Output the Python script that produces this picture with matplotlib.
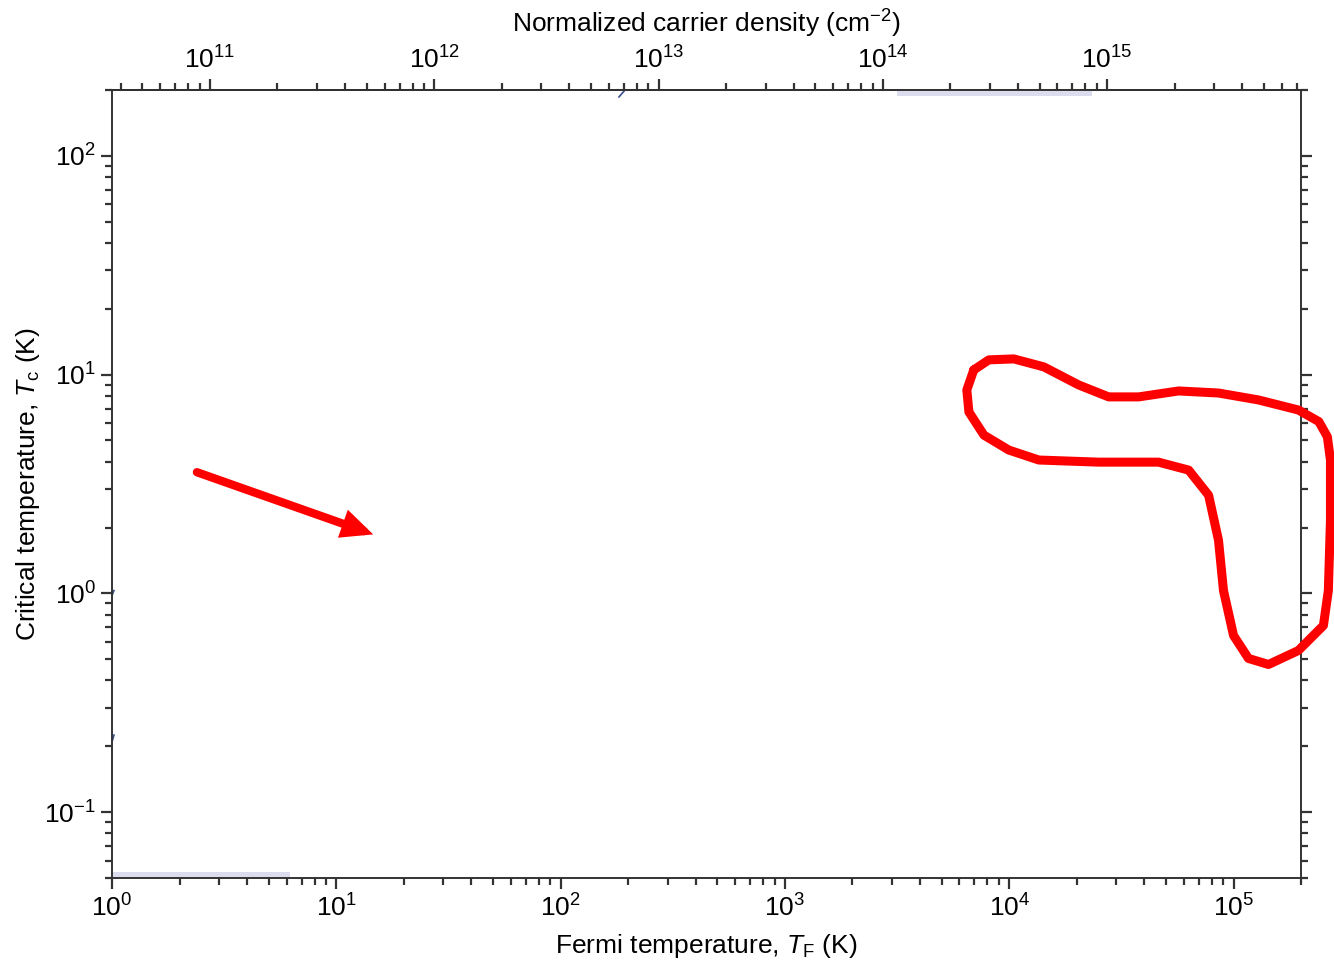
import numpy as np
import matplotlib.pyplot as plt

plt.rcParams['font.family'] = ['Liberation Sans', 'DejaVu Sans']
plt.rcParams['mathtext.fontset'] = 'custom'
plt.rcParams['mathtext.rm'] = 'Liberation Sans'
plt.rcParams['mathtext.it'] = 'Liberation Sans:italic'

# Ejes
x_lim = (1, 2e5)          # Fermi temperature (K)
y_lim = (0.05, 200)       # Critical temperature (K)
n_per_T = 3.66e10         # densidad normalizada por kelvin (eje superior)
top_majors = [1e11, 1e12, 1e13, 1e14, 1e15]

# Contorno rojo dibujado a mano (T_F, T_c)
loop_T = [6950, 8110, 10480, 14260, 20400, 27750, 37750, 56900, 85700, 129200,
          194600, 240000, 262000, 270500, 270500, 264700, 251600, 194600, 143200, 116600,
          100000, 90200, 85700, 77400, 63100, 46300, 25060, 13550, 9960, 7710,
          6610, 6470, 6950]
loop_Tc = [10.51, 11.68, 11.80, 10.85, 8.97, 7.91, 7.91, 8.42, 8.24, 7.66,
           6.89, 6.1, 5.2, 4.07, 2.16, 1.03, 0.713, 0.548, 0.473, 0.504,
           0.642, 1.03, 1.75, 2.81, 3.66, 3.98, 3.98, 4.07, 4.52, 5.29,
           6.75, 8.51, 10.51]

# Flecha roja
arrow_start = (2.39, 3.58)
arrow_end = (14.6, 1.86)

# Bandas lavanda tenues
band_top_T = [3160, 23300]
band_top_Tc = (188, 200)
band_bot_T = [1, 6.2]
band_bot_Tc = (0.05, 0.053)

# Trazos azules residuales
blue_bits = [([1.0, 1.02], [0.98, 1.03]),
             ([1.0, 1.02], [0.21, 0.225]),
             ([182, 192], [186, 198])]

fig = plt.figure(figsize=(13.34, 9.65), dpi=100)
ax = fig.add_axes([0.084, 0.0902, 0.8913, 0.8165])
ax.set_xscale('log')
ax.set_yscale('log')
ax.set_xlim(*x_lim)
ax.set_ylim(*y_lim)

ax.fill_between(band_top_T, *band_top_Tc, color='#dcdcef', lw=0, zorder=1)
ax.fill_between(band_bot_T, *band_bot_Tc, color='#dcdcef', lw=0, zorder=1)
for bx, by in blue_bits:
    ax.plot(bx, by, color='#3a4f8a', lw=1.2, zorder=2)

ax.plot(loop_T, loop_Tc, color='#ff0000', lw=6.5, solid_joinstyle='round',
        solid_capstyle='round', clip_on=False, zorder=5)
ax.annotate('', xy=arrow_end, xytext=arrow_start,
            arrowprops=dict(arrowstyle='-|>,head_length=1.3,head_width=0.6',
                            color='#ff0000', lw=6, shrinkA=0, shrinkB=0,
                            joinstyle='miter'),
            zorder=5)

ax.set_xlabel('Fermi temperature, $T_{\\rm F}$ (K)', fontsize=19, labelpad=8)
ax.set_ylabel('Critical temperature, $T_{\\rm c}$ (K)', fontsize=19, labelpad=2)

for side in ax.spines.values():
    side.set_linewidth(1.4)
    side.set_color('#333333')

ax.tick_params(which='both', direction='out', right=True, top=False,
               labelsize=19, color='#333333', width=1.6)
ax.tick_params(which='major', length=8)
ax.tick_params(which='minor', length=5)
ax.yaxis.set_minor_locator(plt.LogLocator(base=10, subs=np.arange(2, 10), numticks=20))
ax.xaxis.set_minor_locator(plt.LogLocator(base=10, subs=np.arange(2, 10), numticks=20))
ax.yaxis.set_minor_formatter(plt.NullFormatter())
ax.xaxis.set_minor_formatter(plt.NullFormatter())

top = ax.secondary_xaxis('top', functions=(lambda t: t * n_per_T, lambda n: n / n_per_T))
top.set_xlabel('Normalized carrier density (cm$^{-2}$)', fontsize=19, labelpad=10)
top.tick_params(which='both', direction='out', labelsize=19, color='#333333', width=1.6)
top.tick_params(which='major', length=8)
top.tick_params(which='minor', length=5)
top.xaxis.set_major_locator(plt.FixedLocator(top_majors))
top.xaxis.set_minor_locator(plt.LogLocator(base=10, subs=np.arange(2, 10), numticks=20))
top.xaxis.set_minor_formatter(plt.NullFormatter())
top.spines['top'].set_linewidth(1.4)

fig.savefig('out.png', dpi=100)
